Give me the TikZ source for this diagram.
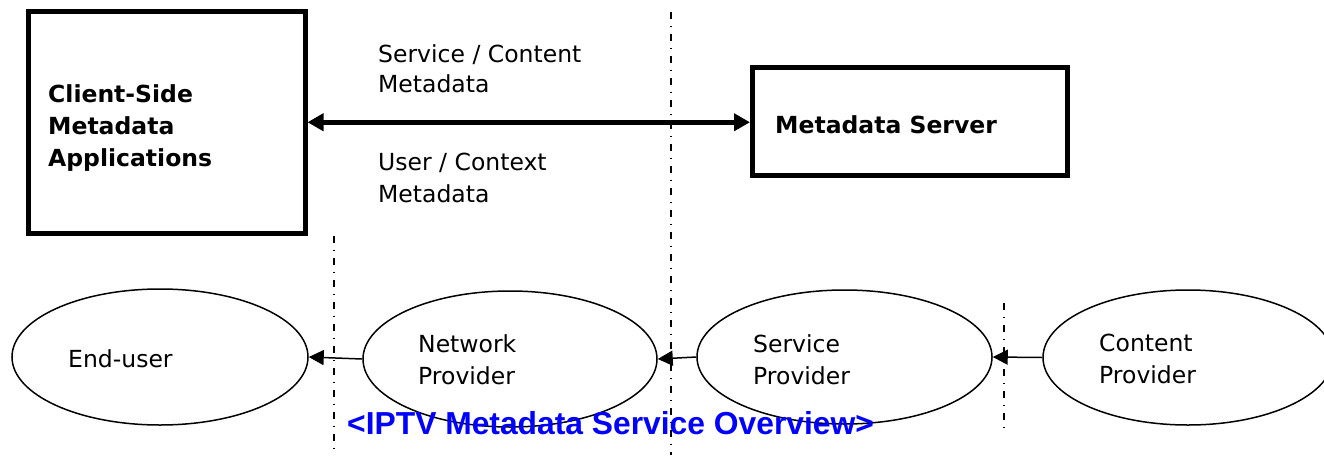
\documentclass[tikz,border=0pt]{standalone}
\usepackage{fontspec}
\setmainfont{DejaVu Sans}
\newfontfamily\captionfont{Liberation Sans}
\usetikzlibrary{arrows.meta,shapes.geometric}

\begin{document}
\begin{tikzpicture}[x=1pt,y=-1pt,
  bigbox/.style={draw, line width=5pt, inner sep=0pt, minimum width=#1},
  oval/.style={draw, ellipse, line width=1.5pt, inner sep=0pt},
  label/.style={inner sep=0pt, anchor=base west, align=left,
    font=\fontsize{23.5}{32}\selectfont},
  boldlabel/.style={label, font=\fontsize{23.5}{32}\selectfont\bfseries},
  bigarrow/.style={line width=4.5pt, {Triangle[length=16pt,width=17pt]}-{Triangle[length=16pt,width=17pt]}},
  flow/.style={line width=1.5pt, -{Triangle[length=15pt,width=15pt]}},
  divider/.style={line width=1.5pt, dash pattern=on 7pt off 6.5pt on 1.5pt off 7pt},
  caption/.style={inner sep=0pt, anchor=base west, text={rgb,255:red,0;green,0;blue,255},
    font=\captionfont\fontsize{31.8}{36}\selectfont\bfseries}]

\clip (0,0) rectangle (1324,455);

% vertical dash-dot dividers
\coordinate (d1t) at (671,12);   \coordinate (d1b) at (671,455);
\coordinate (d2t) at (334,236);  \coordinate (d2b) at (334,455);
\coordinate (d3t) at (1004,303); \coordinate (d3b) at (1004,429);
\draw[divider] (d1t) -- (d1b);
\draw[divider] (d2t) -- (d2b);
\draw[divider] (d3t) -- (d3b);

% top: client applications and metadata server
% (multi-line labels are placed by the baseline of their last line)
\node[bigbox=276.5pt, minimum height=222.5pt] (client) at (166.75,122.25) {};
\node[bigbox=315pt, minimum height=108.5pt] (server) at (910,121.25) {};
\node[boldlabel] (clienttext) at (48,166) {Client-Side\\Metadata\\Applications};
\node[boldlabel] (servertext) at (775,133) {Metadata Server};
\node[label, font=\fontsize{23.5}{30}\selectfont] (down) at (378,92) {Service / Content\\Metadata};
\node[label] (up) at (378,202) {User / Context\\Metadata};
\draw[bigarrow] (client.east) -- (server.west |- client.east);

% bottom: delivery chain
\node[oval, minimum width=296pt, minimum height=136pt] (enduser) at (160,357) {};
\node[oval, minimum width=294pt, minimum height=136pt] (network) at (510,359) {};
\node[oval, minimum width=295pt, minimum height=134pt] (service) at (844.5,357) {};
\node[oval, minimum width=290pt, minimum height=135pt] (content) at (1188,357.5) {};
\node[label] (eutext) at (68,367) {End-user};
\node[label] (nptext) at (418,384) {Network\\Provider};
\node[label] (sptext) at (753,384) {Service\\Provider};
\node[label] (cptext) at (1099,383) {Content\\Provider};
\draw[flow] (network.west) -- (enduser.east);
\draw[flow] (service.west) -- (network.east);
\draw[flow] (content.west) -- (service.east);

\node[caption] (title) at (347,434) {<IPTV Metadata Service Overview>};
\end{tikzpicture}
\end{document}
